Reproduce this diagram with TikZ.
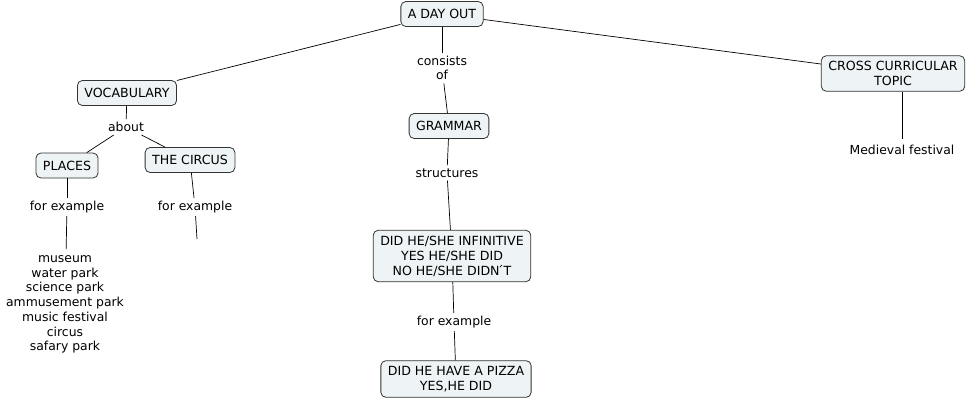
\documentclass[tikz,border=0pt]{standalone}
\usepackage{fontspec}
\setmainfont{DejaVu Sans}
\definecolor{boxfill}{HTML}{EEF3F5}
\definecolor{boxline}{HTML}{333333}
\begin{document}
\begin{tikzpicture}[x=1pt,y=-1pt,
  concept/.style={draw=boxline,fill=boxfill,rounded corners=5pt,align=center,
    inner xsep=7pt,inner ysep=5.5pt,minimum height=25pt,font=\fontsize{12.6}{15}\selectfont,line width=0.8pt},
  lbl/.style={align=center,inner sep=3pt,font=\fontsize{12.4}{14.7}\selectfont},
  conn/.style={draw=black,line width=0.7pt}]
\useasboundingbox (0,0) rectangle (968,402);
% concepts
\node[concept] (day) at (442,14) {A DAY OUT};
\node[concept] (voc) at (127,93) {VOCABULARY};
\node[concept] (pla) at (67,165.5) {PLACES};
\node[concept] (cir) at (190,160) {THE CIRCUS};
\node[concept] (gra) at (449,126) {GRAMMAR};
\node[concept] (did) at (452,256) {DID HE/SHE INFINITIVE\\YES HE/SHE DID\\NO HE/SHE DIDN\'{}T};
\node[concept] (piz) at (456,379) {DID HE HAVE A PIZZA\\YES,HE DID};
\node[concept] (cro) at (893,73.5) {CROSS CURRICULAR\\TOPIC};
% labels
\node[lbl] (abo) at (126,127) {about};
\node[lbl] (con) at (442,68) {consists\\of};
\node[lbl] (str) at (447,173) {structures};
\node[lbl] (fe1) at (67,207) {for example};
\node[lbl] (fe2) at (195,207) {for example};
\node[lbl] (fe3) at (454,322) {for example};
\node[lbl,inner sep=6pt] (lst) at (65,304.5) {museum\\water park\\science park\\ammusement park\\music festival\\circus\\safary park};
\node[lbl,inner sep=6pt] (med) at (902,150) {Medieval festival};
\coordinate (end2) at (197,239);
% connectors
\draw[conn] (day) -- (voc);
\draw[conn] (day) -- (cro);
\draw[conn] (day) -- (con);
\draw[conn] (con) -- (gra);
\draw[conn] (voc) -- (abo);
\draw[conn] (abo) -- (pla);
\draw[conn] (abo) -- (cir);
\draw[conn] (pla) -- (fe1);
\draw[conn] (fe1) -- (lst);
\draw[conn] (cir) -- (fe2);
\draw[conn] (fe2) -- (end2);
\draw[conn] (gra) -- (str);
\draw[conn] (str) -- (did);
\draw[conn] (did) -- (fe3);
\draw[conn] (fe3) -- (piz);
\draw[conn] (cro.south -| med) -- (med);
\end{tikzpicture}
\end{document}
